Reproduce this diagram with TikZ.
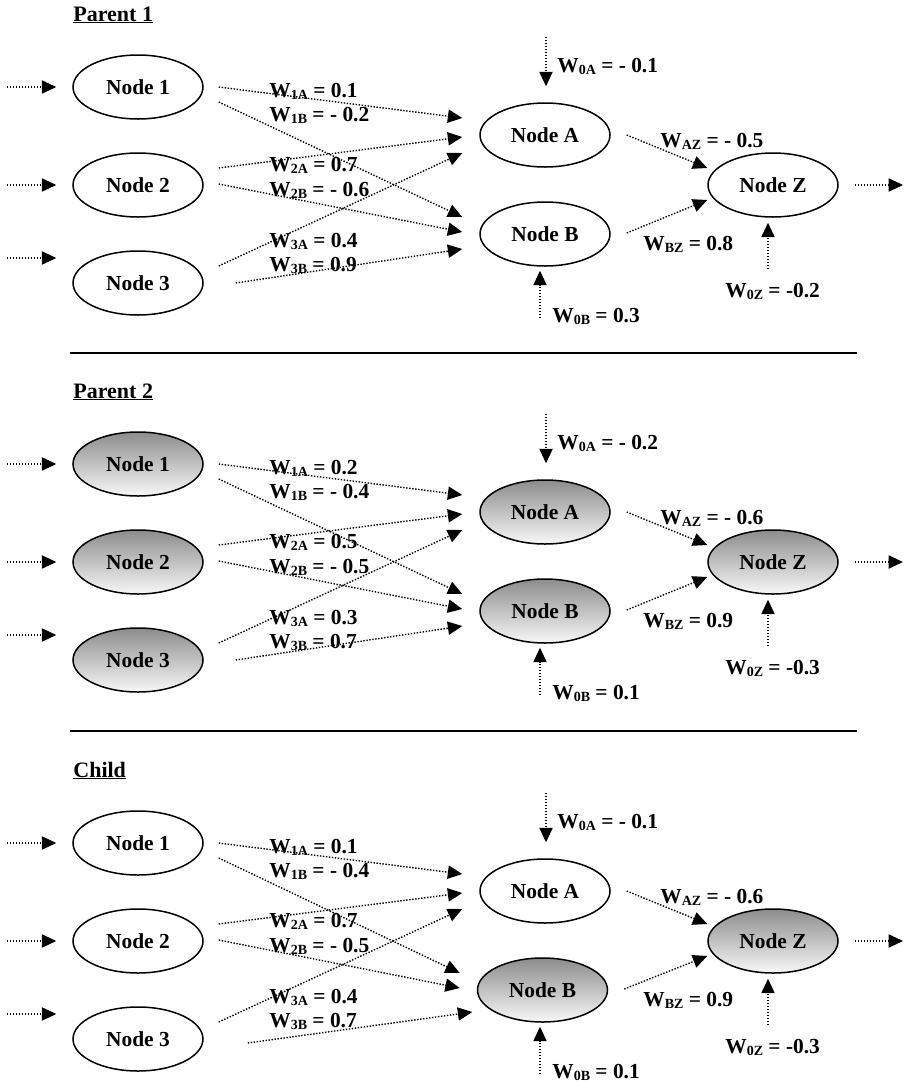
\documentclass[tikz,border=0pt]{standalone}
\usepackage{fontspec}
\setmainfont{Liberation Serif}
\usetikzlibrary{arrows.meta,shapes.geometric}
\definecolor{shtop}{gray}{0.55}
\definecolor{shbot}{gray}{0.97}
\newcommand\sbs[1]{\raisebox{-0.3ex}{\fontsize{7}{7}\selectfont #1}}
\newcommand\ulttl[1]{\setbox0\hbox{#1}\rlap{\rule[-1.2pt]{\wd0}{0.8pt}}\box0}
\tikzset{
  nnode/.style={ellipse, draw, line width=0.75pt, minimum width=65pt, minimum height=32pt, inner sep=0pt, font=\bfseries\fontsize{10.7}{12}\selectfont},
  plainnode/.style={nnode, fill=white},
  shadednode/.style={nnode, top color=shtop, bottom color=shbot},
  conn/.style={line width=0.7pt, dash pattern=on 0.7pt off 0.8pt, -{Triangle[length=7.2pt,width=6.6pt]}},
  wlabel/.style={anchor=base west, inner sep=0pt, font=\bfseries\fontsize{10.7}{12}\selectfont},
  ttl/.style={anchor=base west, inner sep=0pt, font=\bfseries\fontsize{11}{12}\selectfont},
  seprule/.style={line width=1pt}
}
% #1 prefix, #2 y offset, #3 title, #4..#9 styles of nodes 1,2,3,A,B,Z
\newcommand\drawsection[9]{%
\begin{scope}[shift={(0,#2)}]
  \node[ttl] (#1title) at (73,21) {\ulttl{#3}};
  \node[#4] (#1n1) at (138,87) {Node 1};
  \node[#5] (#1n2) at (138,185) {Node 2};
  \node[#6] (#1n3) at (138,283) {Node 3};
  \node[#7] (#1nA) at (545,135) {Node A};
  \node[#8] (#1nB) at (\bx,234) {Node B};
  \node[#9] (#1nZ) at (773,185) {Node Z};
  % input arrows
  \coordinate (#1i1) at (7,87);
  \coordinate (#1i2) at (7,185);
  \coordinate (#1i3) at (7,258);
  \draw[conn] (#1i1) -- ([shift={(-16,0)}]#1n1.west);
  \draw[conn] (#1i2) -- ([shift={(-16,0)}]#1n2.west);
  \draw[conn] (#1i3) -- ([shift={(-16,-25)}]#1n3.west);
  % hidden layer connections
  \draw[conn] ([shift={(15,0)}]#1n1.east) -- ([shift={(-17,-17)}]#1nA.west);
  \draw[conn] ([shift={(15,15)}]#1n1.east) -- ([shift={(-17,-17)}]#1nB.west);
  \draw[conn] ([shift={(15,-17)}]#1n2.east) -- ([shift={(-17,2)}]#1nA.west);
  \draw[conn] ([shift={(15,-1)}]#1n2.east) -- ([shift={(-17,-2)}]#1nB.west);
  \draw[conn] ([shift={(15,-17)}]#1n3.east) -- ([shift={(-17,18)}]#1nA.west);
  \draw[conn] ([shift={(\bsx,\bsy)}]#1n3.east) -- ([shift={(\bex,\bey)}]#1nB.west);
  % output layer
  \draw[conn] ([shift={(16,0)}]#1nA.east) -- ([shift={(0,-17)}]#1nZ.west);
  \draw[conn] ([shift={(16,-1)}]#1nB.east) -- ([shift={(0,15)}]#1nZ.west);
  \coordinate (#1o) at (903,185);
  \draw[conn] ([shift={(16,0)}]#1nZ.east) -- (#1o);
  % bias arrows
  \coordinate (#1bA) at (546,37);
  \coordinate (#1bB) at (540,318);
  \coordinate (#1bZ) at (768,269);
  \draw[conn] (#1bA) -- ([shift={(1,-16)}]#1nA.north);
  \draw[conn] (#1bB) -- ([shift={(\bbx,4)}]#1nB.south);
  \draw[conn] (#1bZ) -- ([shift={(-5,5)}]#1nZ.south);
  % labels
  \node[wlabel] (#1l1A) at (269,97) {W\sbs{1A} = \vIA};
  \node[wlabel] (#1l1B) at (269,121) {W\sbs{1B} = \vIB};
  \node[wlabel] (#1l2A) at (269,171) {W\sbs{2A} = \vIIA};
  \node[wlabel] (#1l2B) at (269,196) {W\sbs{2B} = \vIIB};
  \node[wlabel] (#1l3A) at (269,247) {W\sbs{3A} = \vIIIA};
  \node[wlabel] (#1l3B) at (269,271) {W\sbs{3B} = \vIIIB};
  \node[wlabel] (#1l0A) at (557,72) {W\sbs{0A} = \vOA};
  \node[wlabel] (#1lAZ) at (660,147) {W\sbs{AZ} = \vAZ};
  \node[wlabel] (#1lBZ) at (643,250) {W\sbs{BZ} = \vBZ};
  \node[wlabel] (#1l0Z) at (725,297) {W\sbs{0Z} = \vOZ};
  \node[wlabel] (#1l0B) at (552,322) {W\sbs{0B} = \vOB};
\end{scope}}
\begin{document}
\begin{tikzpicture}[x=0.5pt,y=-0.5pt]
\useasboundingbox (0,0) rectangle (905,1082);
% Parent 1
\def\bx{545}\def\bbx{-5}\def\bsx{32}\def\bsy{0}\def\bex{-17}\def\bey{15}
\def\vIA{0.1}\def\vIB{- 0.2}\def\vIIA{0.7}\def\vIIB{- 0.6}\def\vIIIA{0.4}\def\vIIIB{0.9}
\def\vOA{- 0.1}\def\vAZ{- 0.5}\def\vBZ{0.8}\def\vOZ{-0.2}\def\vOB{0.3}
\drawsection{pa}{0}{Parent 1}{plainnode}{plainnode}{plainnode}{plainnode}{plainnode}{plainnode}
\draw[seprule] (70,353) -- (857,353);
% Parent 2
\def\vIA{0.2}\def\vIB{- 0.4}\def\vIIA{0.5}\def\vIIB{- 0.5}\def\vIIIA{0.3}\def\vIIIB{0.7}
\def\vOA{- 0.2}\def\vAZ{- 0.6}\def\vBZ{0.9}\def\vOZ{-0.3}\def\vOB{0.1}
\drawsection{pb}{377}{Parent 2}{shadednode}{shadednode}{shadednode}{shadednode}{shadednode}{shadednode}
\draw[seprule] (70,731) -- (857,731);
% Child
\def\bx{542.5}\def\bbx{-2.5}\def\bsx{44}\def\bsy{4}\def\bex{-4.5}\def\bey{22}
\def\vIA{0.1}\def\vIB{- 0.4}\def\vIIA{0.7}\def\vIIB{- 0.5}\def\vIIIA{0.4}\def\vIIIB{0.7}
\def\vOA{- 0.1}\def\vAZ{- 0.6}\def\vBZ{0.9}\def\vOZ{-0.3}\def\vOB{0.1}
\drawsection{ch}{756}{Child}{plainnode}{plainnode}{plainnode}{plainnode}{shadednode}{shadednode}
\end{tikzpicture}
\end{document}
